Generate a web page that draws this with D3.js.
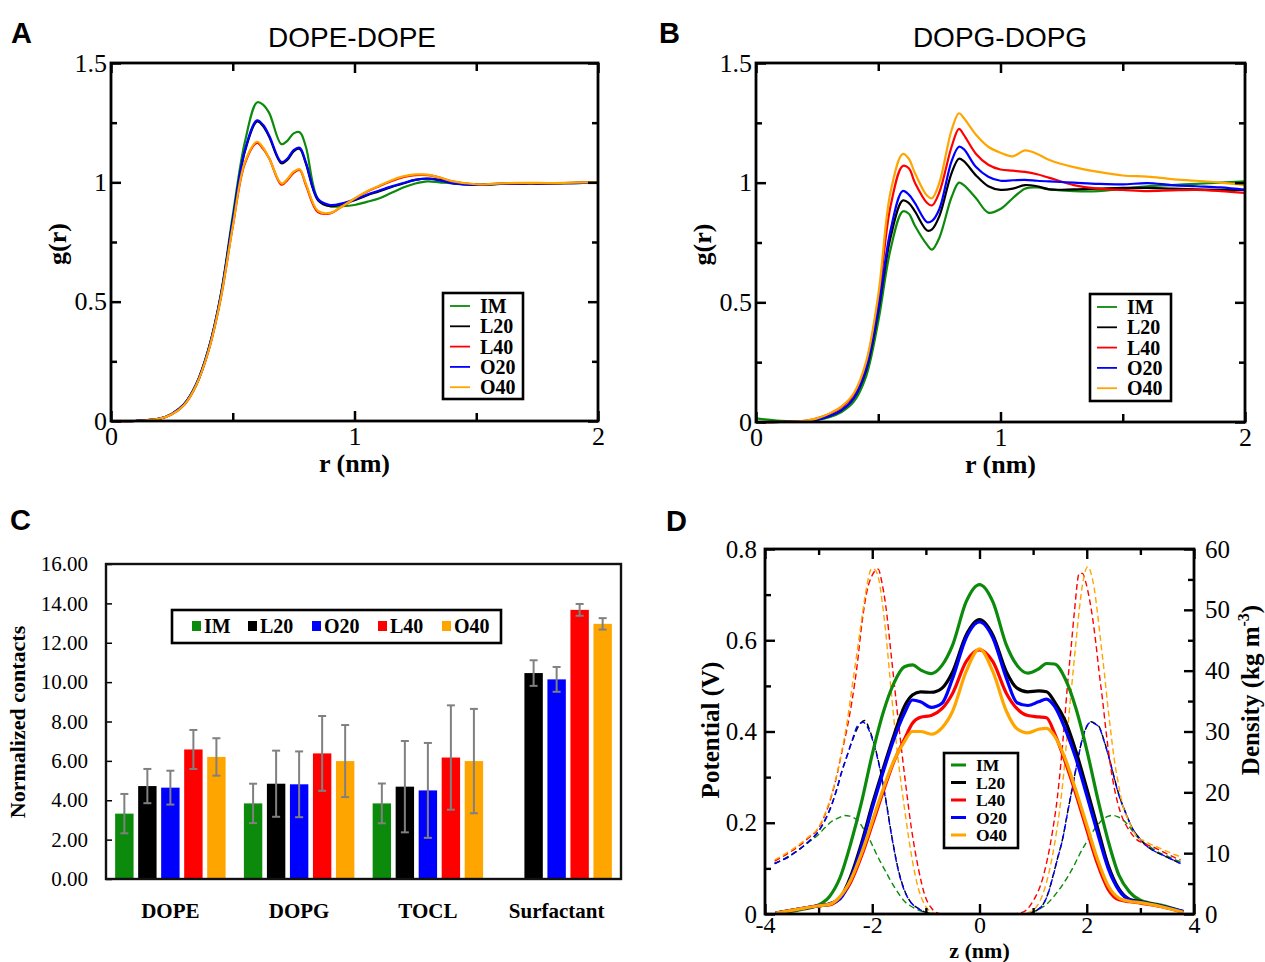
<!DOCTYPE html>
<html><head><meta charset="utf-8">
<script src="https://cdn.jsdelivr.net/npm/d3@7"></script>
<style>
body{margin:0;background:#fff;}
svg text{font-family:"Liberation Serif","Times New Roman",serif;fill:#000;}
</style></head><body>
<svg id="fig" width="1265" height="962" xmlns="http://www.w3.org/2000/svg"></svg>
<script>
// ---------------- DATA ----------------
const seriesNames = ["IM", "L20", "L40", "O20", "O40"];
const seriesColors = {IM: "#0b8a0b", L20: "#000000", L40: "#ff0000", O20: "#0000ff", O40: "#ffa500"};

// Panel A : DOPE-DOPE g(r)
const rA = [0, 0.1, 0.2, 0.25, 0.3, 0.35, 0.4, 0.45, 0.5, 0.55, 0.6, 0.625, 0.65, 0.7, 0.725, 0.75, 0.775, 0.8, 0.85, 0.9, 0.95, 1.0, 1.05, 1.1, 1.15, 1.2, 1.25, 1.3, 1.35, 1.4, 1.5, 1.6, 1.7, 1.8, 1.9, 2.0];
const gA_IM  = [0, 0, 0.01, 0.03, 0.07, 0.155, 0.3, 0.525, 0.86, 1.17, 1.335, 1.325, 1.29, 1.16, 1.175, 1.205, 1.21, 1.15, 0.93, 0.9, 0.9, 0.905, 0.918, 0.932, 0.955, 0.978, 0.995, 1.004, 1.0, 0.996, 0.99, 0.995, 0.997, 0.995, 0.998, 1.0];
const gA_L20 = [0, 0, 0.01, 0.03, 0.07, 0.153, 0.298, 0.52, 0.84, 1.13, 1.255, 1.235, 1.19, 1.08, 1.095, 1.13, 1.14, 1.08, 0.925, 0.9, 0.91, 0.925, 0.945, 0.962, 0.98, 0.995, 1.01, 1.016, 1.01, 0.998, 0.99, 0.993, 0.995, 0.995, 0.997, 0.998];
const gA_L40 = [0, 0, 0.01, 0.028, 0.067, 0.15, 0.292, 0.51, 0.815, 1.08, 1.165, 1.14, 1.1, 0.99, 1.01, 1.04, 1.052, 0.99, 0.875, 0.87, 0.9, 0.93, 0.96, 0.983, 1.005, 1.022, 1.03, 1.03, 1.02, 1.004, 0.99, 0.995, 0.997, 0.996, 0.998, 1.0];
const gA_O20 = [0, 0, 0.01, 0.03, 0.07, 0.153, 0.298, 0.52, 0.84, 1.135, 1.26, 1.24, 1.195, 1.085, 1.1, 1.135, 1.145, 1.085, 0.93, 0.905, 0.912, 0.928, 0.948, 0.965, 0.982, 0.997, 1.01, 1.015, 1.008, 0.997, 0.99, 0.994, 0.996, 0.996, 0.997, 0.998];
const gA_O40 = [0, 0, 0.01, 0.028, 0.067, 0.15, 0.292, 0.51, 0.815, 1.085, 1.17, 1.145, 1.1, 0.995, 1.015, 1.045, 1.055, 0.995, 0.88, 0.872, 0.9, 0.932, 0.962, 0.985, 1.008, 1.025, 1.033, 1.032, 1.02, 1.005, 0.992, 0.996, 0.998, 0.997, 0.999, 1.0];

// Panel B : DOPG-DOPG g(r)
const rB = [0, 0.1, 0.2, 0.25, 0.3, 0.35, 0.4, 0.45, 0.5, 0.55, 0.6, 0.625, 0.65, 0.7, 0.72, 0.75, 0.8, 0.83, 0.85, 0.9, 0.95, 1.0, 1.05, 1.1, 1.15, 1.2, 1.3, 1.4, 1.5, 1.6, 1.7, 1.8, 1.9, 2.0];
const gB_IM  = [0.015, 0.005, 0.002, 0.008, 0.02, 0.042, 0.085, 0.19, 0.42, 0.72, 0.88, 0.87, 0.82, 0.74, 0.72, 0.77, 0.94, 1.0, 0.99, 0.935, 0.875, 0.89, 0.935, 0.975, 0.98, 0.972, 0.965, 0.965, 0.975, 0.985, 0.99, 0.995, 1.0, 1.005];
const gB_L20 = [0, 0, 0.003, 0.01, 0.025, 0.05, 0.1, 0.215, 0.46, 0.77, 0.925, 0.915, 0.88, 0.8, 0.805, 0.86, 1.04, 1.1, 1.09, 1.03, 0.985, 0.97, 0.975, 0.99, 0.985, 0.972, 0.972, 0.975, 0.978, 0.978, 0.975, 0.972, 0.97, 0.97];
const gB_L40 = [0, 0, 0.005, 0.015, 0.033, 0.062, 0.115, 0.24, 0.51, 0.9, 1.07, 1.06, 1.0, 0.915, 0.905, 0.96, 1.15, 1.225, 1.2, 1.12, 1.075, 1.055, 1.05, 1.045, 1.035, 1.02, 0.99, 0.975, 0.97, 0.965, 0.968, 0.97, 0.965, 0.957];
const gB_O20 = [0, 0, 0.003, 0.01, 0.025, 0.05, 0.1, 0.22, 0.47, 0.8, 0.965, 0.95, 0.915, 0.835, 0.84, 0.89, 1.09, 1.15, 1.14, 1.065, 1.025, 1.008, 1.01, 1.012, 1.008, 1.005, 1.0, 0.995, 0.993, 0.998, 0.99, 0.985, 0.98, 0.97];
const gB_O40 = [0, 0, 0.005, 0.015, 0.035, 0.065, 0.12, 0.25, 0.53, 0.96, 1.12, 1.1, 1.04, 0.945, 0.935, 1.0, 1.22, 1.29, 1.27, 1.2, 1.15, 1.125, 1.11, 1.135, 1.12, 1.095, 1.065, 1.045, 1.03, 1.025, 1.015, 1.008, 1.0, 0.99];

const rTicksMajor = [0, 1, 2];
const rTicksMinor = [0.5, 1.5];
const gTicksMajor = [0, 0.5, 1, 1.5];
const gTicksMinor = [0.25, 0.75, 1.25];

// Panel C : normalized contacts
const contactCategories = ["DOPE", "DOPG", "TOCL", "Surfactant"];
const contactSeries = ["IM", "L20", "O20", "L40", "O40"];
const contacts_IM  = [3.32, 3.84, 3.84, null];
const contacts_L20 = [4.72, 4.84, 4.69, 10.46];
const contacts_O20 = [4.64, 4.81, 4.50, 10.14];
const contacts_L40 = [6.58, 6.38, 6.17, 13.67];
const contacts_O40 = [6.20, 5.99, 5.99, 12.96];
const err_IM  = [1.00, 1.00, 1.01, null];
const err_L20 = [0.87, 1.68, 2.32, 0.65];
const err_O20 = [0.86, 1.67, 2.41, 0.63];
const err_L40 = [0.99, 1.90, 2.65, 0.30];
const err_O40 = [0.95, 1.83, 2.65, 0.29];
const contactTicks = [0, 2, 4, 6, 8, 10, 12, 14, 16];

// Panel D : potential (solid, left axis) and density (dashed, right axis)
const zPot = [-3.8, -3.4, -3.0, -2.8, -2.6, -2.4, -2.2, -2.0, -1.8, -1.6, -1.4, -1.25, -1.1, -0.9, -0.7, -0.5, -0.25, 0, 0.25, 0.5, 0.7, 0.9, 1.1, 1.25, 1.4, 1.6, 1.8, 2.0, 2.2, 2.4, 2.6, 2.8, 3.0, 3.4, 3.8];
const pot_IM  = [0.002, 0.008, 0.02, 0.038, 0.08, 0.155, 0.245, 0.35, 0.44, 0.505, 0.542, 0.546, 0.535, 0.527, 0.545, 0.59, 0.684, 0.722, 0.684, 0.59, 0.545, 0.528, 0.537, 0.549, 0.548, 0.515, 0.45, 0.36, 0.255, 0.16, 0.085, 0.048, 0.03, 0.019, 0.005];
const pot_L20 = [0.002, 0.01, 0.018, 0.022, 0.035, 0.083, 0.155, 0.24, 0.317, 0.39, 0.455, 0.48, 0.487, 0.486, 0.495, 0.531, 0.611, 0.645, 0.611, 0.531, 0.495, 0.487, 0.489, 0.487, 0.465, 0.423, 0.356, 0.275, 0.19, 0.107, 0.055, 0.032, 0.027, 0.017, 0.005];
const pot_L40 = [0.002, 0.01, 0.018, 0.02, 0.035, 0.07, 0.127, 0.196, 0.267, 0.333, 0.383, 0.418, 0.431, 0.435, 0.45, 0.484, 0.553, 0.579, 0.553, 0.484, 0.45, 0.435, 0.432, 0.43, 0.396, 0.333, 0.262, 0.185, 0.11, 0.054, 0.031, 0.027, 0.024, 0.016, 0.004];
const pot_O20 = [0.002, 0.01, 0.018, 0.022, 0.033, 0.078, 0.148, 0.232, 0.31, 0.382, 0.44, 0.469, 0.465, 0.453, 0.462, 0.517, 0.605, 0.64, 0.605, 0.517, 0.463, 0.457, 0.465, 0.471, 0.455, 0.405, 0.34, 0.26, 0.178, 0.1, 0.052, 0.031, 0.026, 0.017, 0.006];
const pot_O40 = [0.002, 0.01, 0.018, 0.021, 0.038, 0.075, 0.133, 0.203, 0.273, 0.335, 0.378, 0.4, 0.4, 0.394, 0.408, 0.445, 0.531, 0.581, 0.531, 0.445, 0.406, 0.397, 0.405, 0.407, 0.39, 0.34, 0.27, 0.195, 0.12, 0.062, 0.035, 0.028, 0.025, 0.016, 0.004];

const dens_IM = [[-3.82,8.3],[-3.6,9.3],[-3.38,10.5],[-3.2,11.7],[-3.01,13],[-2.88,14.2],[-2.76,15.2],[-2.63,15.8],[-2.51,16.2],[-2.42,16.1],[-2.32,15.7],[-2.22,14.8],[-2.13,13.5],[-2.03,11.9],[-1.94,10.2],[-1.85,8.6],[-1.75,7],[-1.66,5.5],[-1.57,4.2],[-1.48,3],[-1.39,2],[-1.3,1.4],[-1.2,0.9],[-1.1,0.5],[-1.02,0.3],[-0.9,0.1],[-0.76,0],[0.8,0],[0.93,0.1],[1.05,0.5],[1.15,1],[1.24,1.5],[1.35,2.5],[1.45,3.6],[1.55,4.8],[1.65,6.2],[1.76,7.9],[1.86,9.7],[1.98,11.6],[2.11,13.5],[2.2,14.6],[2.29,15.5],[2.38,16],[2.48,16.2],[2.57,16],[2.67,15.5],[2.79,14.4],[2.91,13],[3.06,11.8],[3.22,10.8],[3.37,10],[3.53,9.4],[3.65,8.9],[3.75,8.6]];
const dens_L20 = [[-3.82,8.3],[-3.6,9.2],[-3.38,10.5],[-3.2,11.8],[-3.01,13.5],[-2.88,15.5],[-2.76,17.9],[-2.66,20.6],[-2.57,23.4],[-2.47,26],[-2.38,28.3],[-2.26,30.8],[-2.14,31.8],[-2.04,30],[-1.95,27.5],[-1.87,24.5],[-1.75,19],[-1.64,13],[-1.52,7.5],[-1.39,3.7],[-1.27,1.8],[-1.14,0.9],[-1.02,0.3],[-0.9,0],[0.9,0],[0.99,0.3],[1.1,0.8],[1.18,1.5],[1.27,3.2],[1.36,5.9],[1.45,9],[1.55,12.4],[1.64,16.6],[1.74,21.2],[1.83,25.3],[1.92,28.9],[2.0,30.8],[2.08,31.6],[2.16,31.3],[2.23,30.8],[2.32,28.6],[2.42,25.6],[2.51,22.5],[2.6,19.6],[2.72,16.8],[2.85,14.1],[2.97,12.6],[3.1,11.3],[3.25,10.4],[3.41,9.7],[3.58,9.0],[3.75,8.3]];
const dens_O20 = [[-3.82,8.3],[-3.6,9.2],[-3.38,10.5],[-3.2,11.8],[-3.01,13.5],[-2.88,15.4],[-2.76,17.8],[-2.66,20.5],[-2.57,23.3],[-2.47,26],[-2.38,28.4],[-2.27,31],[-2.17,31.5],[-2.06,30.2],[-1.96,27.6],[-1.87,24.4],[-1.75,18.8],[-1.64,12.9],[-1.52,7.4],[-1.39,3.6],[-1.27,1.8],[-1.14,0.9],[-1.02,0.3],[-0.9,0],[0.9,0],[0.99,0.3],[1.1,0.8],[1.18,1.5],[1.27,3.1],[1.36,5.8],[1.45,8.9],[1.55,12.3],[1.64,16.5],[1.74,21.1],[1.83,25.2],[1.92,28.8],[2.0,30.9],[2.08,31.5],[2.16,31.2],[2.23,30.7],[2.32,28.5],[2.42,25.5],[2.51,22.4],[2.6,19.5],[2.72,16.7],[2.85,14.1],[2.97,12.6],[3.1,11.3],[3.25,10.4],[3.41,9.7],[3.58,9.0],[3.75,8.3]];
const dens_L40 = [[-3.82,8.7],[-3.6,9.8],[-3.38,11.1],[-3.2,12.4],[-3.01,14.0],[-2.88,16.3],[-2.76,19.4],[-2.66,22.8],[-2.57,26.5],[-2.47,30.5],[-2.38,34.9],[-2.28,41],[-2.19,48],[-2.1,53],[-2.0,55.7],[-1.89,56.7],[-1.82,54.5],[-1.75,50.8],[-1.64,42],[-1.52,32.2],[-1.39,22.3],[-1.27,14.1],[-1.14,7.5],[-1.02,3.1],[-0.89,0.9],[-0.76,0.1],[-0.6,0],[0.6,0],[0.81,0.3],[0.99,2],[1.18,5.9],[1.36,13.5],[1.45,19],[1.52,25],[1.58,31],[1.64,37.6],[1.71,44],[1.77,49.7],[1.86,56],[1.92,56],[1.98,54.6],[2.05,51.8],[2.11,48.6],[2.17,44.5],[2.23,39.8],[2.3,34.8],[2.36,30],[2.48,22.3],[2.57,18.5],[2.67,15.7],[2.79,13.8],[2.91,12.4],[3.1,11.5],[3.29,10.8],[3.47,10],[3.66,9.2],[3.75,8.9]];
const dens_O40 = [[-3.82,8.9],[-3.6,10],[-3.38,11.3],[-3.2,12.6],[-3.01,14.1],[-2.88,16.5],[-2.76,19.6],[-2.66,22.9],[-2.57,26.7],[-2.47,31.5],[-2.38,37.1],[-2.3,42],[-2.22,47],[-2.12,53],[-2.01,56.8],[-1.94,56.5],[-1.87,54.6],[-1.81,51],[-1.75,46.4],[-1.64,36],[-1.52,25.6],[-1.39,16.8],[-1.27,9.7],[-1.14,4.2],[-1.02,1.5],[-0.89,0.3],[-0.76,0],[0.75,0],[0.93,0.3],[1.12,2],[1.3,7],[1.4,11.5],[1.49,16.8],[1.57,23],[1.64,30],[1.72,37.5],[1.8,44.8],[1.86,50],[1.92,54.1],[2.02,57.1],[2.08,56],[2.14,53.5],[2.2,49.5],[2.26,44.8],[2.33,39.5],[2.39,34.4],[2.45,29.8],[2.51,25.6],[2.59,21.4],[2.67,17.9],[2.79,15.2],[2.91,13],[3.1,11.9],[3.29,11.1],[3.47,10.4],[3.66,9.7],[3.75,9.4]];

const zTicksMajor = [-4, -2, 0, 2, 4];
const zTicksMinor = [-3, -1, 1, 3];
const potTicksMajor = [0, 0.2, 0.4, 0.6, 0.8];
const potTicksMinor = [0.1, 0.3, 0.5, 0.7];
const densTicksMajor = [0, 10, 20, 30, 40, 50, 60];
const densTicksMinor = [5, 15, 25, 35, 45, 55];

// ---------------- HELPERS ----------------
const svg = d3.select("#fig");
const SERIF = '"Liberation Serif", "Times New Roman", serif';
const SANS = '"Liberation Sans", Arial, sans-serif';

function styleAxis(sel, fontSize, tickW) {
  sel.attr("font-family", null);
  sel.select(".domain").remove();
  sel.selectAll(".tick line").attr("stroke", "#000").attr("stroke-width", tickW);
  sel.selectAll(".tick text").attr("font-size", fontSize).style("font-family", SERIF).attr("fill", "#000");
}
function addAxis(g, axisGen, scale, tx, ty, values, size, fmt, pad, fontSize, tickW) {
  const ax = axisGen(scale).tickValues(values).tickSize(size).tickSizeOuter(0).tickPadding(pad).tickFormat(fmt);
  const s = g.append("g").attr("transform", `translate(${tx},${ty})`).call(ax);
  styleAxis(s, fontSize, tickW);
  return s;
}
const blank = () => "";
const fmtG = d => d3.format("~g")(d).replace("\u2212", "-");

// ---------------- PANELS A & B ----------------
function gofrPanel(cfg) {
  const g = svg.append("g");
  const x = d3.scaleLinear().domain([0, 2]).range([cfg.left, cfg.right]);
  const y = d3.scaleLinear().domain([0, 1.5]).range([cfg.bottom, cfg.top]);
  const curves = {IM: cfg.data[0], L20: cfg.data[1], L40: cfg.data[2], O20: cfg.data[3], O40: cfg.data[4]};
  const line = d3.line().x((d, i) => x(cfg.r[i])).y(d => y(d)).curve(d3.curveCatmullRom.alpha(0.5));
  seriesNames.forEach(n => {
    g.append("path").attr("d", line(curves[n])).attr("fill", "none")
      .attr("stroke", seriesColors[n]).attr("stroke-width", 2.2).attr("stroke-linejoin", "round");
  });
  addAxis(g, d3.axisBottom, x, 0, cfg.bottom, rTicksMajor, -10, fmtG, 6, 26, 2.5);
  addAxis(g, d3.axisBottom, x, 0, cfg.bottom, rTicksMinor, -8, blank, 6, 26, 2.5);
  addAxis(g, d3.axisTop, x, 0, cfg.top, rTicksMajor, -10, blank, 6, 26, 2.5);
  addAxis(g, d3.axisTop, x, 0, cfg.top, rTicksMinor, -8, blank, 6, 26, 2.5);
  addAxis(g, d3.axisLeft, y, cfg.left, 0, gTicksMajor, -10, fmtG, 4, 26, 2.5);
  addAxis(g, d3.axisLeft, y, cfg.left, 0, gTicksMinor, -6, blank, 4, 26, 2.5);
  addAxis(g, d3.axisRight, y, cfg.right, 0, gTicksMajor, -10, blank, 4, 26, 2.5);
  addAxis(g, d3.axisRight, y, cfg.right, 0, gTicksMinor, -6, blank, 4, 26, 2.5);
  g.append("rect").attr("x", cfg.left).attr("y", cfg.top).attr("width", cfg.right - cfg.left)
    .attr("height", cfg.bottom - cfg.top).attr("fill", "none").attr("stroke", "#000").attr("stroke-width", 2.8);
  g.append("text").attr("x", (cfg.left + cfg.right) / 2).attr("y", cfg.bottom + 51).attr("text-anchor", "middle")
    .attr("font-size", 26).attr("font-weight", "bold").text("r (nm)");
  g.append("text").attr("transform", `translate(${cfg.left - 45},${(cfg.top + cfg.bottom) / 2 + 2}) rotate(-90)`)
    .attr("text-anchor", "middle").attr("font-size", 26).attr("font-weight", "bold").text("g(r)");
  g.append("text").attr("x", cfg.titleX).attr("y", 47).attr("text-anchor", "middle")
    .style("font-family", SANS).attr("font-size", 28).text(cfg.title);
  g.append("text").attr("x", cfg.letterX).attr("y", 43)
    .style("font-family", SANS).attr("font-weight", "bold").attr("font-size", 29).text(cfg.letter);
  const L = cfg.legend;
  g.append("rect").attr("x", L.x).attr("y", L.y).attr("width", L.w).attr("height", L.h)
    .attr("fill", "#fff").attr("stroke", "#000").attr("stroke-width", 2.6);
  seriesNames.forEach((n, i) => {
    const yy = L.y + 13 + i * 20.3;
    g.append("line").attr("x1", L.x + 7).attr("x2", L.x + 27).attr("y1", yy).attr("y2", yy)
      .attr("stroke", seriesColors[n]).attr("stroke-width", 1.8);
    g.append("text").attr("x", L.x + 37).attr("y", yy + 7).attr("font-size", 20).attr("font-weight", "bold").text(n);
  });
}

gofrPanel({left: 111, right: 598, top: 63, bottom: 421, r: rA,
  data: [gA_IM, gA_L20, gA_L40, gA_O20, gA_O40], title: "DOPE-DOPE", titleX: 352, letter: "A", letterX: 11,
  legend: {x: 443, y: 293, w: 80, h: 106}});
gofrPanel({left: 756, right: 1245, top: 63, bottom: 422, r: rB,
  data: [gB_IM, gB_L20, gB_L40, gB_O20, gB_O40], title: "DOPG-DOPG", titleX: 1000, letter: "B", letterX: 659,
  legend: {x: 1090, y: 294, w: 81, h: 107}});

// ---------------- PANEL C ----------------
(function () {
  const g = svg.append("g");
  const left = 106, right = 621, top = 564, bottom = 879;
  const x0 = d3.scaleBand().domain(contactCategories).range([left, right]).paddingInner(0.142).paddingOuter(0.071);
  const x1 = d3.scaleBand().domain(contactSeries).range([0, x0.bandwidth()]).paddingInner(0.2).paddingOuter(0);
  const y = d3.scaleLinear().domain([0, 16]).range([bottom, top]);
  const cColors = {IM: "#0b8a0b", L20: "#000000", O20: "#0000ff", L40: "#ff0000", O40: "#ffa500"};
  const vals = {IM: contacts_IM, L20: contacts_L20, O20: contacts_O20, L40: contacts_L40, O40: contacts_O40};
  const errs = {IM: err_IM, L20: err_L20, O20: err_O20, L40: err_L40, O40: err_O40};
  contactCategories.forEach((c, ci) => {
    contactSeries.forEach(s => {
      const v = vals[s][ci];
      if (v == null) return;
      const bx = x0(c) + x1(s);
      g.append("rect").attr("x", bx).attr("y", y(v)).attr("width", x1.bandwidth()).attr("height", y(0) - y(v))
        .attr("fill", cColors[s]);
      const e = errs[s][ci];
      const cx = bx + x1.bandwidth() / 2;
      g.append("line").attr("x1", cx).attr("x2", cx).attr("y1", y(v + e)).attr("y2", y(v - e))
        .attr("stroke", "#808080").attr("stroke-width", 2);
      [v + e, v - e].forEach(ev => g.append("line").attr("x1", cx - 4).attr("x2", cx + 4)
        .attr("y1", y(ev)).attr("y2", y(ev)).attr("stroke", "#808080").attr("stroke-width", 2));
    });
  });
  addAxis(g, d3.axisLeft, y, left, 0, contactTicks, -6, d3.format(".2f"), 18, 21, 1.5);
  const xa = addAxis(g, d3.axisBottom, x0, 0, bottom, contactCategories, 0, d => d, 24, 21, 0);
  xa.selectAll(".tick text").attr("font-weight", "bold");
  g.append("rect").attr("x", left).attr("y", top).attr("width", right - left).attr("height", bottom - top)
    .attr("fill", "none").attr("stroke", "#111").attr("stroke-width", 2.4);
  g.append("text").attr("transform", `translate(25,722) rotate(-90)`).attr("text-anchor", "middle")
    .attr("font-size", 22).attr("font-weight", "bold").text("Normalized contacts");
  g.append("text").attr("x", 10).attr("y", 530)
    .style("font-family", SANS).attr("font-weight", "bold").attr("font-size", 29).text("C");
  g.append("rect").attr("x", 172).attr("y", 610).attr("width", 329).attr("height", 33)
    .attr("fill", "#fff").attr("stroke", "#000").attr("stroke-width", 2.6);
  const legX = [192, 248, 312, 378, 442];
  contactSeries.forEach((s, i) => {
    g.append("rect").attr("x", legX[i]).attr("y", 621).attr("width", 9).attr("height", 10).attr("fill", cColors[s]);
    g.append("text").attr("x", legX[i] + 12).attr("y", 633).attr("font-size", 20).attr("font-weight", "bold").text(s);
  });
})();

// ---------------- PANEL D ----------------
(function () {
  const g = svg.append("g");
  const left = 765, right = 1194, top = 549, bottom = 914;
  const x = d3.scaleLinear().domain([-4, 4]).range([left, right]);
  const yP = d3.scaleLinear().domain([0, 0.8]).range([bottom, top]);
  const yD = d3.scaleLinear().domain([0, 60]).range([bottom, top]);
  const densSets = [["IM", dens_IM], ["L20", dens_L20], ["O20", dens_O20], ["L40", dens_L40], ["O40", dens_O40]];
  const dl = d3.line().x(d => x(d[0])).y(d => yD(d[1])).curve(d3.curveMonotoneX);
  densSets.forEach(([n, arr]) => {
    g.append("path").attr("d", dl(arr)).attr("fill", "none").attr("stroke", seriesColors[n])
      .attr("stroke-width", 1.4).attr("stroke-dasharray", "6,3.5");
  });
  const pots = {IM: pot_IM, L20: pot_L20, L40: pot_L40, O20: pot_O20, O40: pot_O40};
  const pl = d3.line().x((d, i) => x(zPot[i])).y(d => yP(d)).curve(d3.curveMonotoneX);
  seriesNames.forEach(n => {
    g.append("path").attr("d", pl(pots[n])).attr("fill", "none").attr("stroke", seriesColors[n])
      .attr("stroke-width", 3.2).attr("stroke-linejoin", "round");
  });
  addAxis(g, d3.axisBottom, x, 0, bottom, zTicksMajor, -10, fmtG, 2, 24, 2.4);
  addAxis(g, d3.axisBottom, x, 0, bottom, zTicksMinor, -6, blank, 2, 24, 2.4);
  addAxis(g, d3.axisTop, x, 0, top, zTicksMajor, -10, blank, 5, 25, 2.4);
  addAxis(g, d3.axisTop, x, 0, top, zTicksMinor, -6, blank, 5, 25, 2.4);
  addAxis(g, d3.axisLeft, yP, left, 0, potTicksMajor, -10, fmtG, 8, 25, 2.4);
  addAxis(g, d3.axisLeft, yP, left, 0, potTicksMinor, -6, blank, 8, 25, 2.4);
  addAxis(g, d3.axisRight, yD, right, 0, densTicksMajor, -10, fmtG, 11, 25, 2.4);
  addAxis(g, d3.axisRight, yD, right, 0, densTicksMinor, -6, blank, 11, 25, 2.4);
  g.append("rect").attr("x", left).attr("y", top).attr("width", right - left).attr("height", bottom - top)
    .attr("fill", "none").attr("stroke", "#000").attr("stroke-width", 2.8);
  g.append("text").attr("x", (left + right) / 2).attr("y", 958).attr("text-anchor", "middle")
    .attr("font-size", 22).attr("font-weight", "bold").text("z (nm)");
  g.append("text").attr("transform", `translate(719,730) rotate(-90)`).attr("text-anchor", "middle")
    .attr("font-size", 25).attr("font-weight", "bold").text("Potential (V)");
  const dt = g.append("text").attr("transform", `translate(1259,690) rotate(-90)`).attr("text-anchor", "middle")
    .attr("font-size", 25).attr("font-weight", "bold");
  dt.append("tspan").text("Density (kg m");
  dt.append("tspan").attr("font-size", 16).attr("dy", -10).text("-3");
  dt.append("tspan").attr("dy", 10).text(")");
  g.append("text").attr("x", 666).attr("y", 531)
    .style("font-family", SANS).attr("font-weight", "bold").attr("font-size", 29).text("D");
  g.append("rect").attr("x", 944).attr("y", 753).attr("width", 74).attr("height", 95)
    .attr("fill", "#fff").attr("stroke", "#000").attr("stroke-width", 2.6);
  seriesNames.forEach((n, i) => {
    const yy = 765 + i * 17.5;
    g.append("line").attr("x1", 951).attr("x2", 966).attr("y1", yy).attr("y2", yy)
      .attr("stroke", seriesColors[n]).attr("stroke-width", 3);
    g.append("text").attr("x", 976).attr("y", yy + 6).attr("font-size", 17.5).attr("font-weight", "bold").text(n);
  });
})();
</script>
</body></html>
